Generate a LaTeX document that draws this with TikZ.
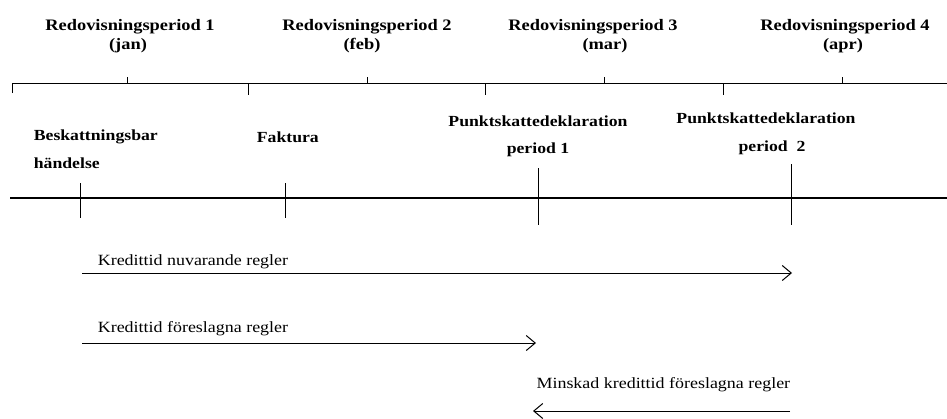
\documentclass[tikz,border=0pt]{standalone}
\usepackage{fontspec}
\setmainfont{Liberation Serif}[FakeStretch=1.15]
\usetikzlibrary{arrows.meta}
\begin{document}
\begin{tikzpicture}[x=1pt,y=-1pt,line width=1pt,
  >={Straight Barb[length=9pt,width=15pt]},
  per/.style={font=\bfseries\fontsize{16}{18}\selectfont},
  hand/.style={font=\bfseries\fontsize{15.4}{18}\selectfont},
  kred/.style={font=\fontsize{15.6}{18}\selectfont}]
  \useasboundingbox (0,0) rectangle (947,418);
  % redovisningsperioder
  \draw (12,93) |- (947,83);
  \foreach \x in {248,485,723} \draw (\x,83) -- (\x,95);
  \foreach \x in {127,367,604,842} \draw (\x,83) -- (\x,77);
  \foreach \n/\x/\mx/\m in {1/130/128/jan,2/367/362/feb,3/593/605/mar,4/845/843/apr}{
    \node[per] (rp\n) at (\x,27) {Redovisningsperiod \n};
    \node[per] (man\n) at (\mx,46) {(\m)};
  }
  % tidslinje
  \draw[line width=1.6pt] (10,198) -- (947,198);
  \coordinate (t1) at (80,198);
  \coordinate (t2) at (285,198);
  \coordinate (t3) at (538,198);
  \coordinate (t4) at (791,198);
  \draw (80,183) -- (80,218);
  \draw (285,183) -- (285,218);
  \draw (538,168) -- (538,225);
  \draw (791,164) -- (791,225);
  \node[hand,anchor=west] (besk) at (30,137) {Beskattningsbar};
  \node[hand,anchor=west] (hand) at (30,163) {händelse};
  \node[hand,anchor=west] (fakt) at (253,137) {Faktura};
  \node[hand] (pskd1) at (538,121) {Punktskattedeklaration};
  \node[hand] (per1) at (538,150) {period 1};
  \node[hand] (pskd2) at (766,118) {Punktskattedeklaration};
  \node[hand] (per2) at (772,148) {period~~2};
  % kredittider
  \coordinate (k1a) at (82,273);
  \coordinate (k1b) at (792,273);
  \coordinate (k2a) at (82,343);
  \coordinate (k2b) at (536,343);
  \coordinate (k3a) at (790,411);
  \coordinate (k3b) at (533,411);
  \draw[->] (k1a) -- (k1b);
  \draw[->] (k2a) -- (k2b);
  \draw[->] (k3a) -- (k3b);
  \node[kred,anchor=west] (knu) at (94,262) {Kredittid nuvarande regler};
  \node[kred,anchor=west] (kfor) at (94,329) {Kredittid föreslagna regler};
  \node[kred,anchor=east] (kmin) at (794,385) {Minskad kredittid föreslagna regler};
\end{tikzpicture}
\end{document}
